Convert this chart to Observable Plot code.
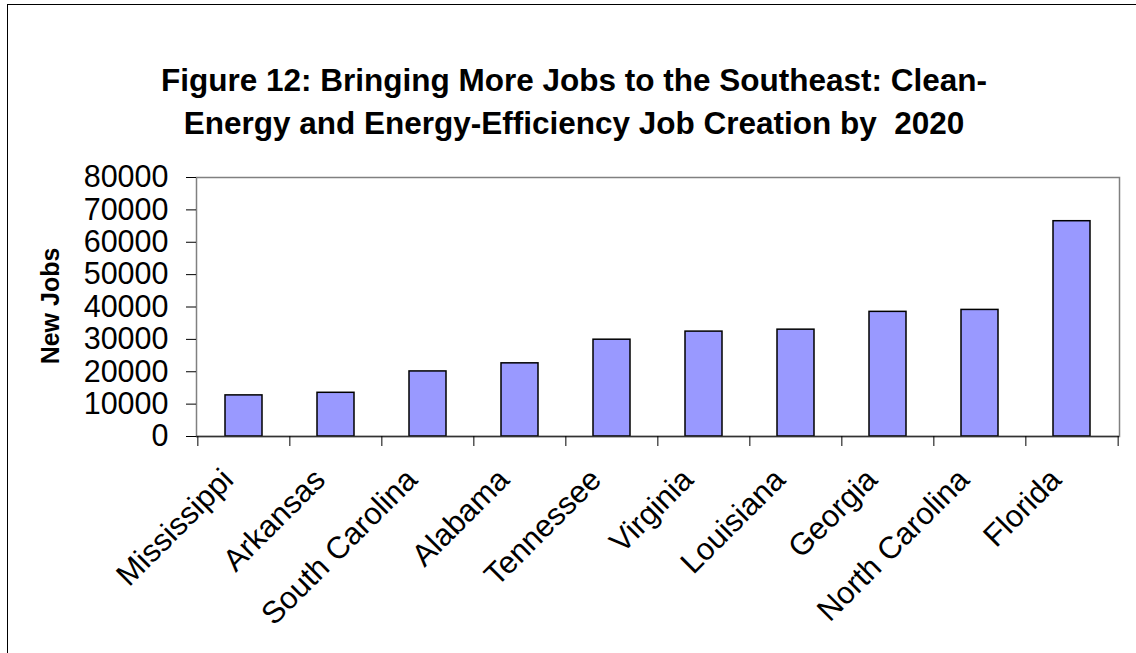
<!DOCTYPE html>
<html>
<head>
<meta charset="utf-8">
<script src="https://cdn.jsdelivr.net/npm/d3@7"></script>
<script src="https://cdn.jsdelivr.net/npm/@observablehq/plot@0.6"></script>
<style>
  html, body { margin: 0; padding: 0; background: #fff; }
  #wrap { position: relative; width: 1136px; height: 653px; overflow: hidden; font-family: Arial, "Liberation Sans", sans-serif; }
  #border { position: absolute; left: 7px; top: 4px; width: 1140px; height: 700px; border: 1.5px solid #000; box-sizing: border-box; }
  #title { position: absolute; left: 0; width: 1148px; top: 59px; text-align: center; font-weight: bold; font-size: 31.5px; line-height: 43px; color: #000; white-space: nowrap; }
  #chart { position: absolute; left: 0; top: 0; }
  #ylabel { position: absolute; left: 50px; top: 306px; transform: translate(-50%, -50%) rotate(-90deg); font-weight: bold; font-size: 25px; white-space: nowrap; }
</style>
</head>
<body>
<div id="wrap">
  <div id="border"></div>
  <div id="title">Figure 12: Bringing More Jobs to the Southeast: Clean-<br>Energy and Energy-Efficiency Job Creation by&nbsp; 2020</div>
  <div id="ylabel">New Jobs</div>
  <div id="chart"></div>
</div>
<script>
const states = ["Mississippi", "Arkansas", "South Carolina", "Alabama", "Tennessee", "Virginia", "Louisiana", "Georgia", "North Carolina", "Florida"];
const jobs = [12700, 13500, 20100, 22600, 29900, 32400, 33000, 38500, 39100, 66500];
const yTicks = [0, 10000, 20000, 30000, 40000, 50000, 60000, 70000, 80000];

const data = states.map((s, i) => ({state: s, jobs: jobs[i]}));

const W = 1136, H = 653;
const mL = 196, mR = 17, mT = 177, mB = 217;
const step = (W - mL - mR) / states.length;

const plot = Plot.plot({
  width: W,
  height: H,
  marginLeft: mL,
  marginRight: mR,
  marginTop: mT,
  marginBottom: mB,
  style: {fontFamily: "Arial, 'Liberation Sans', sans-serif", background: "transparent", overflow: "visible"},
  x: {domain: states, paddingInner: 0.6, paddingOuter: 0.3, label: null},
  y: {domain: [0, 80000], label: null},
  marks: [
    Plot.frame({stroke: "#808080", strokeWidth: 1.5}),
    Plot.barY(data, {x: "state", y: "jobs", fill: "#9999FF", stroke: "#000", strokeWidth: 1.5}),
    Plot.ruleY([0], {stroke: "#333", strokeWidth: 1.5}),
    Plot.ruleX(states, {x: d => d, y1: 0, y2: 0, insetBottom: -10, dx: -step / 2, stroke: "#000", strokeWidth: 1}),
    Plot.ruleX([states[states.length - 1]], {x: d => d, y1: 0, y2: 0, insetBottom: -10, dx: step / 2, stroke: "#000", strokeWidth: 1}),
    Plot.axisY({ticks: yTicks, tickSize: 10, tickPadding: 18, tickFormat: d => String(d), fontSize: 30.5, stroke: "#000", color: "#000"}),
    Plot.axisX({tickSize: 0, tickRotate: -45, tickPadding: 38, dx: -16, fontSize: 31, color: "#000"}),
    Plot.ruleX([0], {frameAnchor: "left", stroke: "#000", strokeWidth: 1.5})
  ]
});
document.getElementById("chart").appendChild(plot);
</script>
</body>
</html>
